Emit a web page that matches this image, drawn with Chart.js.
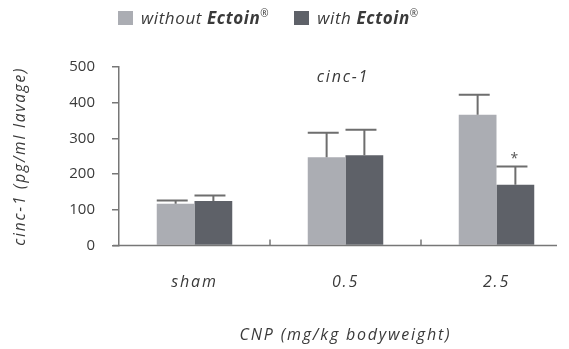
<!DOCTYPE html>
<html>
<head>
<meta charset="utf-8">
<script src="https://cdn.jsdelivr.net/npm/chart.js@4/dist/chart.umd.min.js"></script>
<style>
  html, body { margin: 0; padding: 0; background: #fff; overflow: hidden; }
  #wrap { position: relative; width: 580px; height: 349px; }
  #legend { position: absolute; top: 6px; left: 118px; font: italic 17px "Open Sans", sans-serif; letter-spacing: 0.6px; color: #3a3a3a; white-space: nowrap; }
  #legend span.item { display: inline-block; margin-right: 20px; }
  #legend i.sw { display: inline-block; width: 15px; height: 14px; vertical-align: -1px; margin-right: 8px; }
  #legend sup { font-size: 10px; vertical-align: 7px; font-style: normal; }
</style>
</head>
<body>
<div id="wrap">
  <div id="legend">
    <span class="item"><i class="sw" style="background:#abadb3"></i>without <b>Ectoin</b><sup>®</sup></span>
    <span class="item"><i class="sw" style="background:#5e6168"></i>with <b>Ectoin</b><sup>®</sup></span>
  </div>
  <canvas id="chart" width="580" height="349"></canvas>
</div>
<script>
// data
const categories = ['sham', '0.5', '2.5'];
const withoutEctoin = [117, 247, 366];
const withEctoin = [125, 253, 170];
const withoutErr = [126, 316, 422];   // top of error bar
const withErr = [140, 324, 221];
const withMarks = ['', '', '*'];
const yTicks = [0, 100, 200, 300, 400, 500];

const TEXT = '#3a3a3a';
const AXIS = '#777';
const SPACED = '1.8px';

// error bars, significance marks, inner title, x axis line
const extras = {
  id: 'extras',
  beforeDraw(chart) {
    chart.ctx.letterSpacing = SPACED; // axis titles / x labels are wide-spaced
  },
  afterDatasetsDraw(chart) {
    const ctx = chart.ctx;
    const y = chart.scales.y;
    const x = chart.scales.x;
    const area = chart.chartArea;
    const errs = [withoutErr, withErr];
    ctx.save();
    ctx.strokeStyle = '#6e6e6e';
    ctx.lineWidth = 2;
    chart.data.datasets.forEach((ds, di) => {
      chart.getDatasetMeta(di).data.forEach((bar, i) => {
        const top = y.getPixelForValue(errs[di][i]);
        const w = bar.width;
        ctx.beginPath();
        ctx.moveTo(bar.x, bar.y);
        ctx.lineTo(bar.x, top);
        ctx.moveTo(bar.x - w / 2, top);
        ctx.lineTo(bar.x + w * 0.32, top);
        ctx.stroke();
        if (di === 1 && withMarks[i]) {
          ctx.fillStyle = '#555';
          ctx.font = '14px "Open Sans", sans-serif';
          ctx.textAlign = 'center';
          ctx.textBaseline = 'middle';
          ctx.fillText(withMarks[i], bar.x, top - 8);
        }
      });
    });
    // x axis line
    ctx.strokeStyle = AXIS;
    ctx.lineWidth = 1.5;
    ctx.beginPath();
    ctx.moveTo(area.left - 6, area.bottom);
    ctx.lineTo(area.right - 15, area.bottom);
    // small upward ticks between categories
    for (let i = 0; i < categories.length - 1; i++) {
      const bx = (x.getPixelForValue(i) + x.getPixelForValue(i + 1)) / 2;
      ctx.moveTo(bx, area.bottom);
      ctx.lineTo(bx, area.bottom - 6);
    }
    ctx.stroke();
    // inner title
    ctx.fillStyle = TEXT;
    ctx.font = 'italic 16px "Open Sans", sans-serif';
    ctx.textAlign = 'center';
    ctx.textBaseline = 'middle';
    ctx.fillText('cinc-1', area.left + 224, area.top + 10);
    ctx.restore();
    ctx.letterSpacing = '0px'; // y tick numbers (drawn after, ticks.z 1) are normally spaced
  }
};

new Chart(document.getElementById('chart'), {
  type: 'bar',
  data: {
    labels: categories,
    datasets: [
      { label: 'without Ectoin®', data: withoutEctoin, backgroundColor: '#abadb3' },
      { label: 'with Ectoin®', data: withEctoin, backgroundColor: '#5e6168' },
    ],
  },
  options: {
    responsive: false,
    animation: false,
    events: [],
    layout: { padding: { left: 7, right: 8, top: 67, bottom: 0 } },
    datasets: { bar: { barPercentage: 1, categoryPercentage: 0.5 } },
    plugins: { legend: { display: false }, tooltip: { enabled: false } },
    scales: {
      x: {
        grid: { display: false },
        border: { display: false },
        ticks: { color: TEXT, padding: 19, font: { family: 'Open Sans', size: 16, style: 'italic' } },
        title: { display: true, text: 'CNP (mg/kg bodyweight)', color: TEXT, font: { family: 'Open Sans', size: 16, style: 'italic' } },
        afterFit: (s) => { s.height = 103.5; },
      },
      y: {
        min: 0,
        max: 500,
        afterBuildTicks: (s) => { s.ticks = yTicks.map((v) => ({ value: v })); },
        grid: { drawOnChartArea: false, tickLength: 7, color: AXIS, lineWidth: 1.5 },
        border: { display: true, color: AXIS, width: 1.5 },
        ticks: { z: 1, color: TEXT, padding: 17, font: { family: 'Open Sans', size: 15 } },
        title: { display: true, text: 'cinc-1 (pg/ml lavage)', color: TEXT, font: { family: 'Open Sans', size: 15.5, style: 'italic' } },
        afterFit: (s) => { s.width = 112; },
      },
    },
  },
  plugins: [extras],
});
</script>
</body>
</html>
